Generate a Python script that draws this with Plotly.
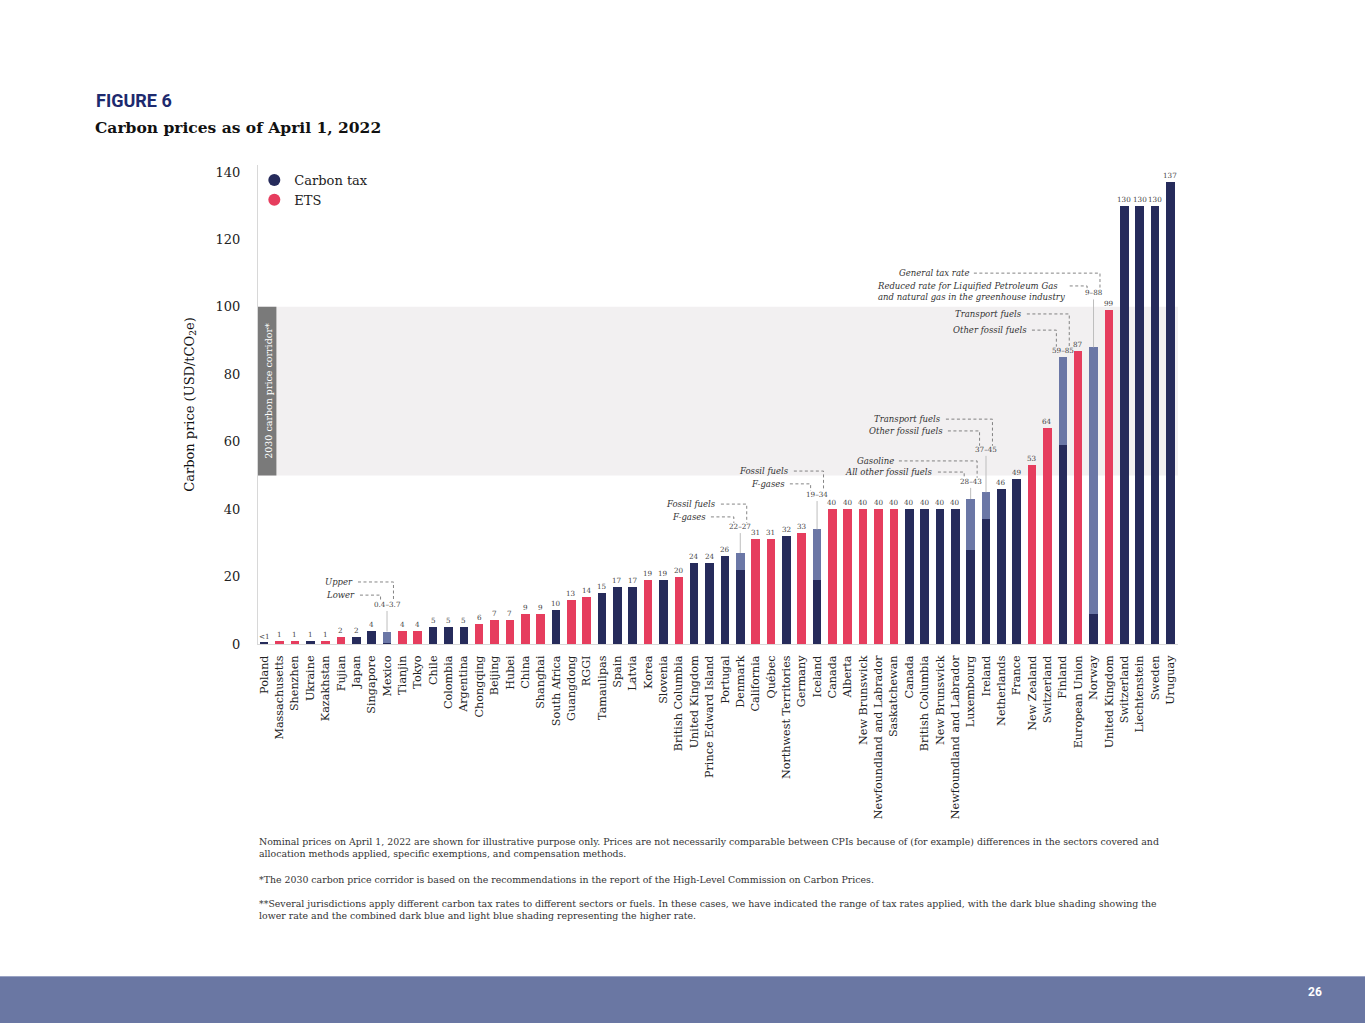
import plotly.graph_objects as go

# ---------------- data ----------------
categories = ["Poland", "Massachusetts", "Shenzhen", "Ukraine", "Kazakhstan", "Fujian", "Japan",
              "Singapore", "Mexico", "Tianjin", "Tokyo", "Chile", "Colombia", "Argentina",
              "Chongqing", "Beijing", "Hubei", "China", "Shanghai", "South Africa", "Guangdong",
              "RGGI", "Tamaulipas", "Spain", "Latvia", "Korea", "Slovenia", "British Columbia",
              "United Kingdom", "Prince Edward Island", "Portugal", "Denmark", "California",
              "Québec", "Northwest Territories", "Germany", "Iceland", "Canada", "Alberta",
              "New Brunswick", "Newfoundland and Labrador", "Saskatchewan", "Canada",
              "British Columbia", "New Brunswick", "Newfoundland and Labrador", "Luxembourg",
              "Ireland", "Netherlands", "France", "New Zealand", "Switzerland", "Finland",
              "European Union", "Norway", "United Kingdom", "Switzerland", "Liechtenstein",
              "Sweden", "Uruguay"]

instrument = ["tax", "ets", "ets", "tax", "ets", "ets", "tax",
              "tax", "tax", "ets", "ets", "tax", "tax", "tax",
              "ets", "ets", "ets", "ets", "ets", "tax", "ets",
              "ets", "tax", "tax", "tax", "ets", "tax", "ets",
              "tax", "tax", "tax", "tax", "ets",
              "ets", "tax", "ets", "tax", "ets", "ets",
              "ets", "ets", "ets", "tax",
              "tax", "tax", "tax", "tax",
              "tax", "tax", "tax", "ets", "ets", "tax",
              "ets", "tax", "ets", "tax", "tax",
              "tax", "tax"]

# lower (or single) price, USD/tCO2e
price_low = [0.3, 1, 1, 1, 1, 2, 2,
             4, 0.4, 4, 4, 5, 5, 5,
             6, 7, 7, 9, 9, 10, 13,
             14, 15, 17, 17, 19, 19, 20,
             24, 24, 26, 22, 31,
             31, 32, 33, 19, 40, 40,
             40, 40, 40, 40,
             40, 40, 40, 28,
             37, 46, 49, 53, 64, 59,
             87, 9, 99, 130, 130,
             130, 137]

# upper price (same as lower for a single rate)
price_high = [0.3, 1, 1, 1, 1, 2, 2,
              4, 3.7, 4, 4, 5, 5, 5,
              6, 7, 7, 9, 9, 10, 13,
              14, 15, 17, 17, 19, 19, 20,
              24, 24, 26, 27, 31,
              31, 32, 33, 34, 40, 40,
              40, 40, 40, 40,
              40, 40, 40, 43,
              45, 46, 49, 53, 64, 85,
              87, 88, 99, 130, 130,
              130, 137]

value_labels = ["<1", "1", "1", "1", "1", "2", "2",
                "4", "0.4–3.7", "4", "4", "5", "5", "5",
                "6", "7", "7", "9", "9", "10", "13",
                "14", "15", "17", "17", "19", "19", "20",
                "24", "24", "26", "22–27", "31",
                "31", "32", "33", "19–34", "40", "40",
                "40", "40", "40", "40",
                "40", "40", "40", "28–43",
                "37–45", "46", "49", "53", "64", "59–85",
                "87", "9–88", "99", "130", "130",
                "130", "137"]

# rate descriptions for jurisdictions with several rates: (bar, upper-rate text, lower-rate text)
rate_notes = [
    (8, "Upper", "Lower"),
    (31, "Fossil fuels", "F-gases"),
    (36, "Fossil fuels", "F-gases"),
    (46, "Gasoline", "All other fossil fuels"),
    (47, "Transport fuels", "Other fossil fuels"),
    (52, "Transport fuels", "Other fossil fuels"),
    (54, "General tax rate", "Reduced rate for Liquified Petroleum Gas<br>and natural gas in the greenhouse industry"),
]

corridor = (50, 100)
y_ticks = [0, 20, 40, 60, 80, 100, 120, 140]

# ---------------- styling / layout helpers ----------------
NAVY = "#262B5B"
PINK = "#E63D5E"
LIGHT = "#6B77A6"
SERIF = "DejaVu Serif"
L, R, T, B = 258, 1178, 165, 644
W, H = R - L, B - T


def px(x):
    return (x - L) / W


def py(y):
    return (B - y) / H


# placement of the range labels and their leader text (layout only)
range_label_base = {8: 9.8, 31: 32.9, 36: 42.4, 46: 46.3, 47: 55.8, 52: 85.2, 54: 102.2}
note_layout = {  # bar: (upper text right x, upper y, lower text right x, lower y)
    8: (5.86, 18.4, 5.99, 14.5),
    31: (29.49, 41.5, 28.84, 37.7),
    36: (34.24, 51.3, 33.98, 47.5),
    46: (41.08, 54.3, 43.62, 51.0),
    47: (44.14, 66.7, 44.27, 63.2),
    52: (49.41, 97.9, 49.74, 93.1),
    54: (45.96, 110.0, 52.2, 104.6),
}

n = len(categories)
idx = list(range(n))
is_range = [h != l for l, h in zip(price_low, price_high)]
base_colors = [NAVY if k == "tax" else PINK for k in instrument]
upper_part = [h - l for l, h in zip(price_low, price_high)]

fig = go.Figure()
fig.add_trace(go.Bar(x=idx, y=price_low, marker=dict(color=base_colors, line=dict(width=0)),
                     width=0.56, showlegend=False, hoverinfo="skip"))
fig.add_trace(go.Bar(x=idx, y=upper_part, marker=dict(color=LIGHT, line=dict(width=0)),
                     width=0.56, showlegend=False, hoverinfo="skip"))
# legend entries
fig.add_trace(go.Scatter(x=[None], y=[None], mode="markers", name="Carbon tax",
                         marker=dict(color=NAVY, size=12, symbol="circle")))
fig.add_trace(go.Scatter(x=[None], y=[None], mode="markers", name="ETS",
                         marker=dict(color=PINK, size=12, symbol="circle")))

shapes = []
annotations = []

# corridor band and label box
shapes.append(dict(type="rect", xref="x domain", yref="y", x0=0, x1=1, y0=corridor[0], y1=corridor[1],
                   fillcolor="#F2F0F1", line=dict(width=0), layer="below"))
shapes.append(dict(type="rect", xref="paper", yref="y", x0=0, x1=0.02, y0=corridor[0], y1=corridor[1],
                   fillcolor="#7A7A7A", line=dict(width=0), layer="above"))
annotations.append(dict(xref="paper", yref="y", x=0.0105, y=sum(corridor) / 2,
                        text="2030 carbon price corridor*", textangle=-90, showarrow=False,
                        xanchor="center", yanchor="middle",
                        font=dict(family=SERIF, size=9.5, color="#FFFFFF")))

# value labels
for i in idx:
    ybase = range_label_base.get(i, price_high[i])
    annotations.append(dict(x=i, y=ybase, xref="x", yref="y", text=value_labels[i], showarrow=False,
                            yanchor="bottom", xanchor="center", borderpad=0, yshift=1,
                            font=dict(family=SERIF, size=7.2, color="#444")))
    if is_range[i] and ybase - price_high[i] > 1:
        shapes.append(dict(type="line", xref="x", yref="y", x0=i, x1=i, y0=price_high[i], y1=ybase,
                           line=dict(color="#BDBDBD", width=1)))

# leader notes
NOTE_FONT = dict(family=SERIF, size=8.5, color="#333")
DASH = dict(color="#666", width=0.8, dash="3px,2.5px")
for bar, up_text, low_text in rate_notes:
    ux, uy, lx, ly = note_layout[bar]
    top = range_label_base[bar] + 3.0
    # upper-rate
    annotations.append(dict(x=ux, y=uy, xref="x", yref="y", text=f"<i>{up_text}</i>", showarrow=False,
                            xanchor="right", yanchor="middle", font=NOTE_FONT, borderpad=0))
    shapes.append(dict(type="path", xref="x", yref="y",
                       path=f"M {ux + 0.25},{uy} L {bar + 0.42},{uy} L {bar + 0.42},{top}",
                       line=DASH))
    # lower-rate
    multi = "<br>" in low_text
    annotations.append(dict(x=lx, y=ly, xref="x", yref="y", text=f"<i>{low_text}</i>", showarrow=False,
                            xanchor="right", yanchor="middle", align="left", font=NOTE_FONT, borderpad=0))
    line_y = ly + 1.6 if multi else ly
    shapes.append(dict(type="path", xref="x", yref="y",
                       path=f"M {lx + 0.25},{line_y} L {bar - 0.42},{line_y} L {bar - 0.42},{top}",
                       line=DASH))

# titles
annotations.append(dict(xref="paper", yref="paper", x=px(94), y=py(101), xanchor="left", yanchor="middle",
                        text="<b>FIGURE 6</b>", showarrow=False,
                        font=dict(family="Roboto", size=18, color="#1D2A6E", weight=900)))
annotations.append(dict(xref="paper", yref="paper", x=px(93), y=py(128), xanchor="left", yanchor="middle",
                        text="<b>Carbon prices as of April 1, 2022</b>", showarrow=False,
                        font=dict(family=SERIF, size=15.5, color="#111")))

# footnotes
notes = [
    (847, "Nominal prices on April 1, 2022 are shown for illustrative purpose only. Prices are not necessarily comparable between CPIs because of (for example) differences in the sectors covered and<br>allocation methods applied, specific exemptions, and compensation methods."),
    (879, "*The 2030 carbon price corridor is based on the recommendations in the report of the High-Level Commission on Carbon Prices."),
    (909, "**Several jurisdictions apply different carbon tax rates to different sectors or fuels. In these cases, we have indicated the range of tax rates applied, with the dark blue shading showing the<br>lower rate and the combined dark blue and light blue shading representing the higher rate."),
]
for yy, txt in notes:
    annotations.append(dict(xref="paper", yref="paper", x=px(257), y=py(yy), xanchor="left", yanchor="middle",
                            text=txt, showarrow=False, align="left",
                            font=dict(family=SERIF, size=9.4, color="#333")))

# footer band
shapes.append(dict(type="rect", xref="paper", yref="paper", x0=px(0), x1=px(1365), y0=py(1023), y1=py(976),
                   fillcolor="#6A77A3", line=dict(width=0)))
shapes.append(dict(type="line", xref="paper", yref="paper", x0=px(0), x1=px(1365), y0=py(976.5), y1=py(976.5),
                   line=dict(color="#9AA3C4", width=1)))
annotations.append(dict(xref="paper", yref="paper", x=px(1324), y=py(1001), text="<b>26</b>", showarrow=False,
                        font=dict(family="Roboto", size=12, color="white")))

fig.update_layout(
    width=1365, height=1023,
    margin=dict(l=L, r=1365 - R, t=T, b=1023 - B, pad=0),
    paper_bgcolor="white", plot_bgcolor="white",
    barmode="stack", bargap=0.4,
    shapes=shapes, annotations=annotations,
    legend=dict(x=-0.004, y=1.0, xanchor="left", yanchor="top", bgcolor="rgba(0,0,0,0)",
                traceorder="normal",
                font=dict(family=SERIF, size=13, color="#222"), itemwidth=30, tracegroupgap=2),
    font=dict(family=SERIF, color="#222"),
)
fig.update_xaxes(range=[-0.4, n - 0.5], tickmode="array", tickvals=idx, ticktext=categories,
                 tickangle=-90, tickfont=dict(family=SERIF, size=11.2, color="#222"),
                 showgrid=False, zeroline=False, showline=True, linecolor="#D8D8D8", linewidth=1,
                 ticks="", ticklabelstandoff=6)
fig.update_yaxes(range=[0, (B - T) / ((B - 172) / 140)], tickmode="array", tickvals=y_ticks,
                 tickfont=dict(family=SERIF, size=13, color="#222"),
                 showgrid=False, zeroline=False, showline=True, linecolor="#D8D8D8", linewidth=1,
                 ticks="", ticklabelstandoff=14,
                 title=dict(text="Carbon price (USD/tCO<sub>2</sub>e)", standoff=18,
                            font=dict(family=SERIF, size=13, color="#111")))

fig.write_html("out.html", config={"displayModeBar": False},
               post_script="document.body.style.margin='0';document.body.style.overflow='hidden';")
